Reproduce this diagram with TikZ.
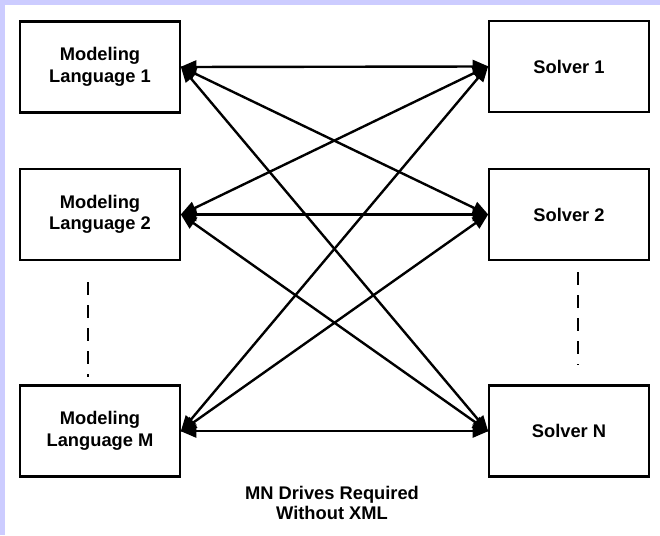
\documentclass[tikz,border=0pt]{standalone}
\usepackage{fontspec}
\setmainfont{Liberation Sans}
\usetikzlibrary{arrows.meta}
\definecolor{lav}{HTML}{CCCCFF}
\begin{document}
\begin{tikzpicture}[x=1pt,y=-1pt,
  box/.style={draw=black, line width=2.6pt, fill=white, minimum width=160pt, minimum height=91pt,
    inner sep=0pt, align=center, font=\fontsize{18.3}{21.6}\selectfont\bfseries},
  conn/.style={line width=2.4pt, {Triangle[length=16pt,width=13pt]}-{Triangle[length=16pt,width=13pt]}, shorten <=-1pt, shorten >=-1pt},
  dotdash/.style={line width=2.6pt, dash pattern=on 13pt off 10pt},
  caption/.style={align=center, font=\fontsize{18.3}{20}\selectfont\bfseries}]
\useasboundingbox (0,0) rectangle (660,535);
\fill[lav] (0,0) rectangle (660,535);
\fill[white] (5,5) rectangle (660,535);

\node[box] (ml1) at (100,67) {Modeling\\Language 1};
\node[box] (ml2) at (100,214.5) {Modeling\\Language 2};
\node[box] (mlm) at (100,431) {Modeling\\Language M};
\node[box] (s1) at (569,66.5) {Solver 1};
\node[box] (s2) at (569,214.5) {Solver 2};
\node[box] (sn) at (569,431) {Solver N};

\foreach \a in {ml1,ml2,mlm}{
  \foreach \b in {s1,s2,sn}{
    \draw[conn] (\a.east) -- (\b.west);
  }
}

\coordinate (d1a) at (88,282);
\coordinate (d1b) at (88,377);
\coordinate (d2a) at (578,272);
\coordinate (d2b) at (578,365);
\draw[dotdash] (d1a) -- (d1b);
\draw[dotdash] (d2a) -- (d2b);

\node[caption] (cap) at (332,503) {MN Drives Required\\Without XML};
\end{tikzpicture}
\end{document}
